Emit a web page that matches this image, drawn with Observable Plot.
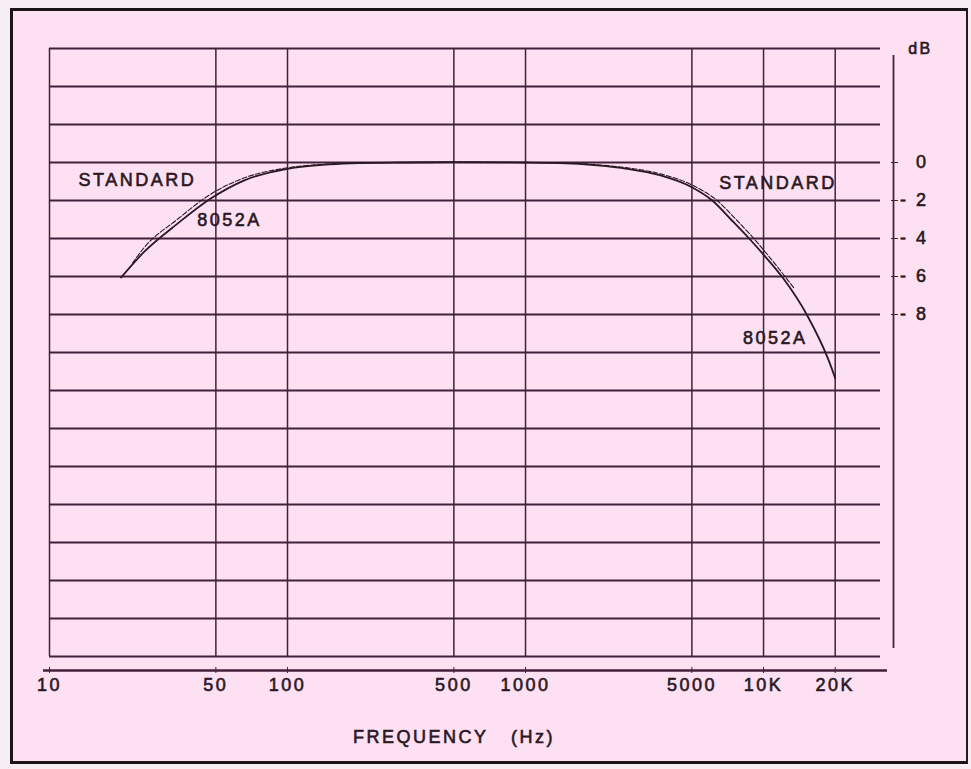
<!DOCTYPE html>
<html>
<head>
<meta charset="utf-8">
<script src="https://cdn.jsdelivr.net/npm/d3@7"></script>
<script src="https://cdn.jsdelivr.net/npm/@observablehq/plot@0.6"></script>
<style>
  html, body { margin: 0; padding: 0; background: #f7eef3; }
  #wrap { position: relative; width: 971px; height: 769px; overflow: hidden; }
  #paper { position: absolute; left: 10px; top: 8px; width: 958px; height: 756px;
           box-sizing: border-box; background: #fde1f3;
           border-top: 3px solid #1c1418; border-left: 3px solid #1c1418;
           border-right: 2px solid #241a20; border-bottom: 3px solid #1c1418; }
  #chart { position: absolute; left: 0; top: 0; }
  #chart svg text { letter-spacing: 2.5px; stroke: #2a1824; stroke-width: 0.6px; }
</style>
</head>
<body>
<div id="wrap"><div id="paper"></div><div id="chart"></div></div>
<script>
// Axis definitions
const xDomain = [10, 31000];
const yDomain = [-26, 6];
const freqTicks = [10, 50, 100, 500, 1000, 5000, 10000, 20000];
const freqTickLabels = ["10", "50", "100", "500", "1000", "5000", "10K", "20K"];
const dbGrid = [6, 4, 2, 0, -2, -4, -6, -8, -10, -12, -14, -16, -18, -20, -22, -24, -26];
const dbTicks = [0, -2, -4, -6, -8];
const dbTickLabels = ["0", "- 2", "- 4", "- 6", "- 8"];

// Series: 8052A (solid)
const freq8052A = [20, 24.9, 34.4, 47.4, 65.5, 99.7, 150, 200, 300, 500, 1000, 1400, 2000, 2670, 3690, 5000, 6090, 7300, 8700, 10000, 11985, 15260, 18620, 20000];
const db8052A   = [-6.05, -4.72, -3.23, -1.91, -0.95, -0.33, -0.1, -0.03, 0, 0.02, 0, -0.03, -0.15, -0.33, -0.68, -1.3, -2.0, -3.0, -4.0, -4.85, -6.03, -8.05, -10.3, -11.35];

// Series: STANDARD (dashed)
const freqStandard = [22.3, 24.9, 34.4, 47.4, 65.5, 99.7, 150, 200, 300, 500, 1000, 1400, 2000, 2670, 3690, 5000, 6380, 7600, 8950, 10500, 13400];
const dbStandard   = [-5.3, -4.5, -3.0, -1.68, -0.82, -0.28, -0.08, -0.02, 0, 0.02, 0, -0.02, -0.12, -0.28, -0.6, -1.18, -2.0, -2.95, -3.9, -4.92, -6.6];

// Curve labels
const labelText = ["STANDARD", "8052A", "STANDARD", "8052A"];
const labelFreq = [23.4, 57, 11500, 11200];
const labelDb   = [-0.95, -3.05, -1.08, -9.24];

const ink = "#2a1824";
const grid = "#43203a";

const s8052A = freq8052A.map((f, i) => ({f, db: db8052A[i]}));
const sStd = freqStandard.map((f, i) => ({f, db: dbStandard[i]}));
const labels = labelText.map((t, i) => ({t, f: labelFreq[i], db: labelDb[i]}));
const xLabels = freqTicks.map((f, i) => ({f, t: freqTickLabels[i]}));
const yLabels = dbTicks.map((db, i) => ({db, t: dbTickLabels[i]}));

const chart = Plot.plot({
  width: 971,
  height: 769,
  marginLeft: 49,
  marginRight: 91,
  marginTop: 48,
  marginBottom: 113,
  style: {background: "transparent", fontFamily: "'Liberation Sans', Arial, sans-serif", fontSize: "18px", color: ink},
  x: {type: "log", domain: xDomain, axis: null},
  y: {domain: yDomain, axis: null},
  marks: [
    Plot.ruleY(dbGrid, {stroke: grid, strokeWidth: 1.8}),
    Plot.ruleX(freqTicks, {y1: yDomain[0], y2: yDomain[1], stroke: grid, strokeWidth: 1.5}),
    // right axis line
    Plot.ruleX([xDomain[1]], {y1: yDomain[0], y2: yDomain[1], dx: 13, insetTop: -8, insetBottom: -7, stroke: grid, strokeWidth: 1.8}),
    // bottom axis line
    Plot.ruleY([yDomain[0]], {x1: xDomain[0], x2: xDomain[1], dy: 14, insetLeft: -6, insetRight: -7, stroke: grid, strokeWidth: 2.5}),
    Plot.axisX(freqTicks, {anchor: "bottom", tickSize: 6, dy: 11, tickFormat: () => "", label: null, stroke: grid}),
    Plot.text(xLabels, {x: "f", y: yDomain[0], text: "t", dy: 29, fontSize: 18, fill: ink}),
    Plot.axisY(dbTicks, {anchor: "right", tickSize: 7, dx: 10, tickFormat: () => "", label: null, stroke: grid}),
    Plot.text(yLabels, {x: xDomain[1], y: "db", text: "t", dx: 48, textAnchor: "end", fontSize: 18, fill: ink}),
    Plot.text(["dB"], {x: xDomain[1], y: yDomain[1], text: d => d, dx: 40, fontSize: 16, fill: ink}),
    Plot.line(sStd, {x: "f", y: "db", curve: "monotone-x", stroke: ink, strokeWidth: 1.1, strokeDasharray: "5,2"}),
    Plot.line(s8052A, {x: "f", y: "db", curve: "monotone-x", stroke: ink, strokeWidth: 1.8}),
    Plot.text(labels, {x: "f", y: "db", text: "t", fontSize: 18, fill: ink}),
    Plot.text(["FREQUENCY\u00a0\u00a0\u00a0(Hz)"], {frameAnchor: "bottom", text: d => d, dx: -11, dy: 86, fontSize: 18, fill: ink})
  ]
});
document.getElementById("chart").appendChild(chart);
</script>
</body>
</html>
